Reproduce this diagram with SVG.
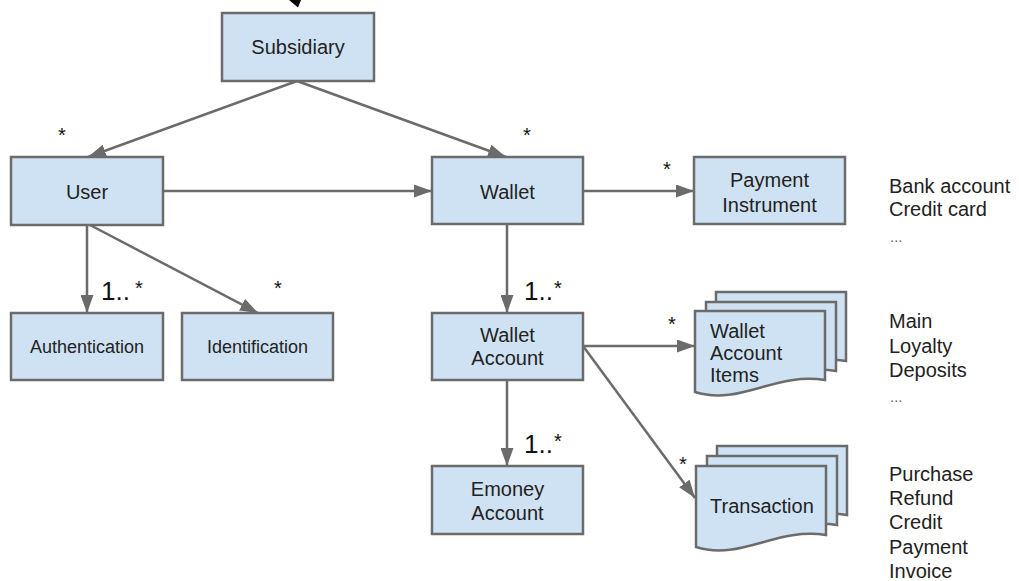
<svg xmlns="http://www.w3.org/2000/svg" width="1019" height="581" viewBox="0 0 1019 581">
  <style>
    .box { fill: #cfe2f3; stroke: #6b6b6b; stroke-width: 2.5; }
    .lbl { font-family: "Liberation Sans", Arial, sans-serif; font-size: 20px; fill: #222; text-anchor: middle; }
    .sm { font-size: 18px; }
    .side { font-family: "Liberation Sans", Arial, sans-serif; font-size: 20px; fill: #222; }
    .dots { font-family: "Liberation Sans", Arial, sans-serif; font-size: 15px; fill: #666; }
    .mult { font-family: "Liberation Sans", Arial, sans-serif; font-size: 20px; fill: #111; text-anchor: middle; }
    .big { font-family: "Liberation Sans", Arial, sans-serif; font-size: 26px; fill: #111; }
    .conn { stroke: #6b6b6b; stroke-width: 2.5; fill: none; marker-end: url(#arrow); }
  </style>
  <defs>
    <marker id="arrow" viewBox="0 0 18 13" refX="18" refY="6.5" markerWidth="18" markerHeight="13" markerUnits="userSpaceOnUse" orient="auto">
      <path d="M0,0 L18,6.5 L0,13 Z" fill="#6b6b6b"/>
    </marker>
    <!-- document sheet with wavy bottom edge -->
    <path id="doc" d="M0,0 H130 V69 C80,61 45,95 0,81 Z"/>
  </defs>

  <!-- incoming arrowhead above Subsidiary -->
  <polygon points="289,0 301,0 298,7.5" fill="#000"/>

  <g id="connectors">
    <line class="conn" x1="297" y1="81" x2="88" y2="157"/>
    <line class="conn" x1="297" y1="81" x2="506" y2="157"/>
    <line class="conn" x1="163" y1="191" x2="432" y2="191"/>
    <line class="conn" x1="583" y1="191" x2="694" y2="191"/>
    <line class="conn" x1="87" y1="225" x2="87" y2="313"/>
    <line class="conn" x1="90" y1="225" x2="258" y2="313"/>
    <line class="conn" x1="507" y1="224" x2="507" y2="313"/>
    <line class="conn" x1="583" y1="346" x2="695" y2="346"/>
    <line class="conn" x1="583" y1="346" x2="695" y2="498"/>
    <line class="conn" x1="507" y1="380" x2="507" y2="466"/>
  </g>

  <g id="subsidiary">
    <rect class="box" x="222" y="13" width="152" height="68"/>
    <text class="lbl" x="298" y="54">Subsidiary</text>
  </g>
  <g id="user">
    <rect class="box" x="11" y="157" width="152" height="68"/>
    <text class="lbl" x="87" y="199">User</text>
  </g>
  <g id="wallet">
    <rect class="box" x="432" y="157" width="151" height="67"/>
    <text class="lbl" x="507.5" y="199">Wallet</text>
  </g>
  <g id="payment-instrument">
    <rect class="box" x="694" y="157" width="151" height="67"/>
    <text class="lbl" x="769.5" y="187">Payment</text>
    <text class="lbl" x="769.5" y="212">Instrument</text>
  </g>
  <g id="authentication">
    <rect class="box" x="11" y="313" width="152" height="67"/>
    <text class="lbl sm" x="87" y="353">Authentication</text>
  </g>
  <g id="identification">
    <rect class="box" x="182" y="313" width="151" height="67"/>
    <text class="lbl sm" x="257.5" y="353">Identification</text>
  </g>
  <g id="wallet-account">
    <rect class="box" x="432" y="313" width="151" height="67"/>
    <text class="lbl" x="507.5" y="342">Wallet</text>
    <text class="lbl" x="507.5" y="365">Account</text>
  </g>
  <g id="emoney-account">
    <rect class="box" x="432" y="466" width="151" height="68"/>
    <text class="lbl" x="507.5" y="496">Emoney</text>
    <text class="lbl" x="507.5" y="520">Account</text>
  </g>
  <g id="wallet-account-items">
    <use href="#doc" class="box" transform="translate(716,292)"/>
    <use href="#doc" class="box" transform="translate(706,302)"/>
    <use href="#doc" class="box" transform="translate(695,311)"/>
    <text class="side sm" x="710" y="338">Wallet</text>
    <text class="side sm" x="710" y="360">Account</text>
    <text class="side sm" x="710" y="382">Items</text>
  </g>
  <g id="transaction">
    <use href="#doc" class="box" transform="translate(717,446)"/>
    <use href="#doc" class="box" transform="translate(707,456)"/>
    <use href="#doc" class="box" transform="translate(696,466)"/>
    <text class="side sm" x="710" y="513">Transaction</text>
  </g>

  <g id="multiplicities">
    <text class="mult" x="62" y="142">*</text>
    <text class="mult" x="527" y="142">*</text>
    <text class="mult" x="667" y="176">*</text>
    <text class="mult" x="278" y="295">*</text>
    <text class="mult" x="672" y="331">*</text>
    <text class="mult" x="683" y="471">*</text>
    <text class="big" x="101" y="300">1..</text>
    <text class="mult" x="139" y="295">*</text>
    <text class="big" x="524" y="300">1..</text>
    <text class="mult" x="558" y="295">*</text>
    <text class="big" x="524" y="453">1..</text>
    <text class="mult" x="558" y="448">*</text>
  </g>

  <g id="notes">
    <text class="side" x="889" y="193">Bank account</text>
    <text class="side" x="889" y="215.5">Credit card</text>
    <text class="dots" x="890" y="242">...</text>
    <text class="side" x="889" y="328">Main</text>
    <text class="side" x="889" y="353">Loyalty</text>
    <text class="side" x="889" y="377">Deposits</text>
    <text class="dots" x="890" y="402">...</text>
    <text class="side" x="889" y="481">Purchase</text>
    <text class="side" x="889" y="505">Refund</text>
    <text class="side" x="889" y="529">Credit</text>
    <text class="side" x="889" y="554">Payment</text>
    <text class="side" x="889" y="578">Invoice</text>
  </g>
</svg>
